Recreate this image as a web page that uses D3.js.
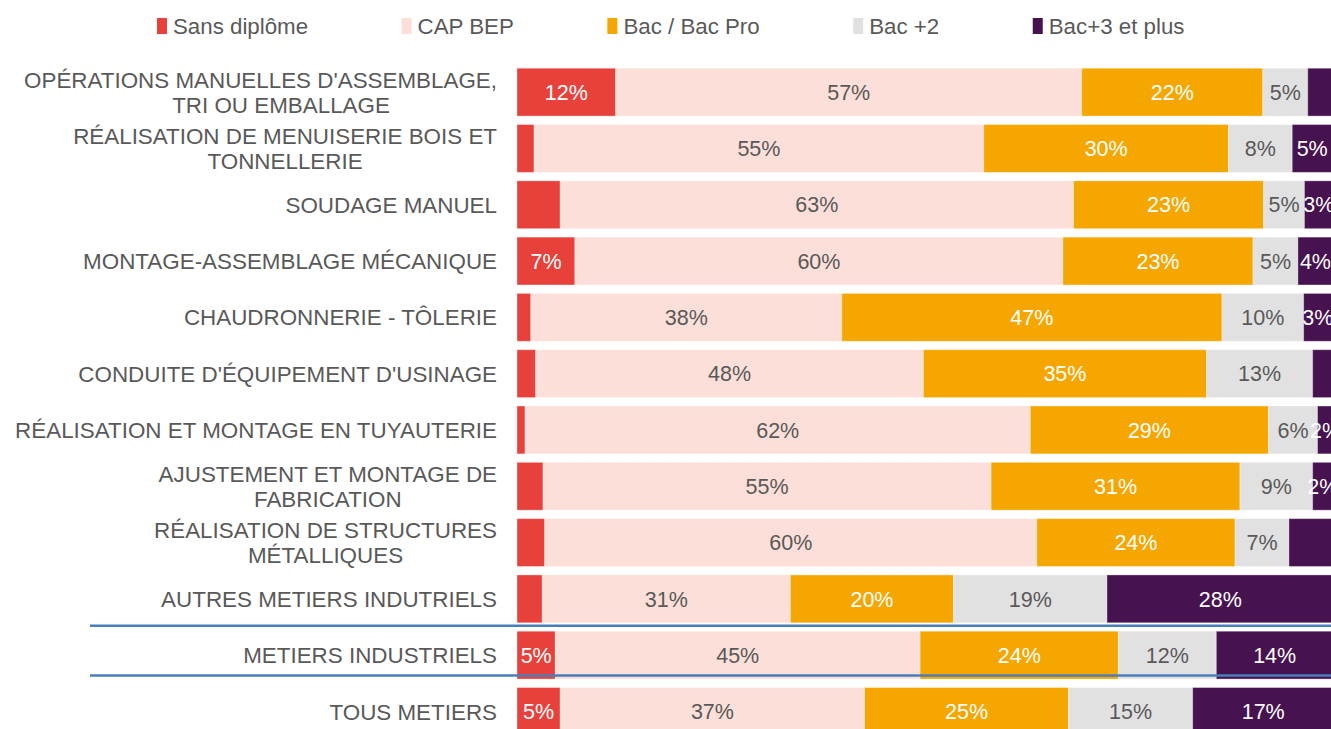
<!DOCTYPE html>
<html>
<head>
<meta charset="utf-8">
<script src="https://cdn.jsdelivr.net/npm/d3@7"></script>
<style>
  html, body { margin: 0; padding: 0; background: #fff; }
  svg { display: block; font-family: "Liberation Sans", Arial, sans-serif; }
</style>
</head>
<body>
<svg id="chart" width="1331" height="729"></svg>
<script>
const categories = [
  ["OPÉRATIONS MANUELLES D'ASSEMBLAGE,", "TRI OU EMBALLAGE"],
  ["RÉALISATION DE MENUISERIE BOIS ET", "TONNELLERIE"],
  ["SOUDAGE MANUEL"],
  ["MONTAGE-ASSEMBLAGE MÉCANIQUE"],
  ["CHAUDRONNERIE - TÔLERIE"],
  ["CONDUITE D'ÉQUIPEMENT D'USINAGE"],
  ["RÉALISATION ET MONTAGE EN TUYAUTERIE"],
  ["AJUSTEMENT ET MONTAGE DE", "FABRICATION"],
  ["RÉALISATION DE STRUCTURES", "MÉTALLIQUES"],
  ["AUTRES METIERS INDUTRIELS"],
  ["METIERS INDUSTRIELS"],
  ["TOUS METIERS"]
];
const seriesNames = ["Sans diplôme", "CAP BEP", "Bac / Bac Pro", "Bac +2", "Bac+3 et plus"];

const sansDiplome = [12.1, 2.1, 5.3, 7.1, 1.7, 2.3, 1.0, 3.2, 3.4, 3.1, 4.7, 5.3];
const capBep      = [57.1, 55.1, 62.9, 59.8, 38.1, 47.5, 61.9, 54.9, 60.3, 30.4, 44.7, 37.3];
const bacPro      = [22.2, 30.0, 23.3, 23.3, 46.6, 34.7, 29.2, 30.5, 24.3, 20.0, 24.3, 25.0];
const bac2        = [5.5, 7.8, 5.0, 5.5, 10.0, 13.0, 6.0, 8.9, 6.6, 18.8, 12.0, 15.2];
const bac3        = [3.1, 4.9, 3.5, 4.3, 3.5, 2.5, 2.0, 2.5, 5.4, 27.8, 14.3, 17.3];

const sansLabels = ["12%", null, null, "7%", null, null, null, null, null, null, "5%", "5%"];
const capLabels  = ["57%", "55%", "63%", "60%", "38%", "48%", "62%", "55%", "60%", "31%", "45%", "37%"];
const bacLabels  = ["22%", "30%", "23%", "23%", "47%", "35%", "29%", "31%", "24%", "20%", "24%", "25%"];
const bac2Labels = ["5%", "8%", "5%", "5%", "10%", "13%", "6%", "9%", "7%", "19%", "12%", "15%"];
const bac3Labels = [null, "5%", "3%", "4%", "3%", null, "2%", "2%", null, "28%", "14%", "17%"];

const colors = ["#E8413B", "#FBDFD8", "#F6A600", "#E1E1E1", "#46124F"];
const textColors = ["#ffffff", "#595959", "#ffffff", "#595959", "#ffffff"];

const seriesValues = [sansDiplome, capBep, bacPro, bac2, bac3];
const seriesLabels = [sansLabels, capLabels, bacLabels, bac2Labels, bac3Labels];

const svg = d3.select("#chart");
const catKeys = categories.map(c => c.join(" "));

const x = d3.scaleLinear().domain([0, 100]).range([517, 1333]);
const step = 56.3;
const y = d3.scaleBand().domain(catKeys)
  .range([64, 64 + 12 * step])
  .paddingInner(0.15).paddingOuter(0.075);

const rows = catKeys.map((k, i) => {
  const r = { key: k };
  seriesNames.forEach((s, j) => r[s] = seriesValues[j][i]);
  return r;
});
const stacked = d3.stack().keys(seriesNames)(rows);

const gBars = svg.append("g");
stacked.forEach((layer, j) => {
  const g = gBars.append("g");
  g.selectAll("rect").data(layer).join("rect")
    .attr("x", d => x(d[0]))
    .attr("y", d => y(d.data.key))
    .attr("width", d => x(d[1]) - x(d[0]))
    .attr("height", y.bandwidth())
    .attr("fill", colors[j])
    .attr("stroke", "#ffffff")
    .attr("stroke-opacity", 0.35)
    .attr("stroke-width", 1);
  g.selectAll("text").data(layer.map((d, i) => ({ d, lab: seriesLabels[j][i] })).filter(o => o.lab))
    .join("text")
    .attr("x", o => (x(o.d[0]) + x(o.d[1])) / 2)
    .attr("y", o => y(o.d.data.key) + y.bandwidth() / 2)
    .attr("dy", "0.36em")
    .attr("text-anchor", "middle")
    .attr("font-size", "21.5px")
    .attr("fill", textColors[j])
    .text(o => o.lab);
});

// category labels
const labelRight = 497;
const maxBlock = 432;
const gLab = svg.append("g");
categories.forEach((lines, i) => {
  const cy = y(catKeys[i]) + y.bandwidth() / 2;
  const texts = lines.map((ln, li) => gLab.append("text")
    .attr("font-size", "22.4px")
    .attr("fill", "#595959")
    .attr("text-anchor", "middle")
    .attr("dy", "0.36em")
    .attr("y", cy + (li - (lines.length - 1) / 2) * 25)
    .text(ln));
  const widths = texts.map(t => t.node().getComputedTextLength());
  const blockW = Math.min(d3.max(widths), maxBlock);
  const c = labelRight - blockW / 2;
  texts.forEach((t, li) => t.attr("x", Math.min(c, labelRight - widths[li] / 2)));
});

// separator lines
const sepY = [y(catKeys[10]) - 5.5, y(catKeys[11]) - 12];
svg.append("g").selectAll("line").data(sepY).join("line")
  .attr("x1", 90).attr("x2", 1331)
  .attr("y1", d => d).attr("y2", d => d)
  .attr("stroke", "#4A7EBB").attr("stroke-width", 2.6);

// legend
const gLeg = svg.append("g");
let lx = 157;
seriesNames.forEach((s, j) => {
  gLeg.append("rect").attr("x", lx).attr("y", 18).attr("width", 10).attr("height", 16).attr("fill", colors[j]);
  const t = gLeg.append("text").attr("x", lx + 16).attr("y", 26).attr("dy", "0.36em")
    .attr("font-size", "22.3px").attr("fill", "#595959").text(s);
  lx += 16 + t.node().getComputedTextLength() + 93.5;
});
</script>
</body>
</html>
